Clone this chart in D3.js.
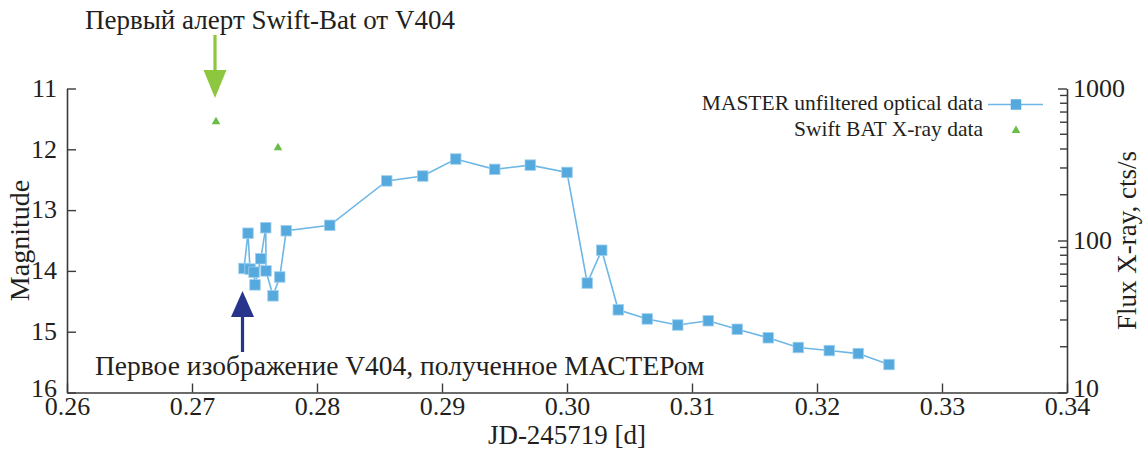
<!DOCTYPE html>
<html>
<head>
<meta charset="utf-8">
<script src="https://cdn.jsdelivr.net/npm/d3@7"></script>
<style>
  html, body { margin: 0; padding: 0; background: #fff; }
</style>
</head>
<body>
<svg id="chart" width="1147" height="450"></svg>
<script>
// MASTER unfiltered optical light curve (JD-245719, magnitude)
const masterJD = [0.27416, 0.27448, 0.27464, 0.27496, 0.27504, 0.27550, 0.27590, 0.27592,
  0.27648, 0.27702, 0.27754, 0.28102, 0.28558, 0.28846, 0.29110, 0.29422, 0.29706, 0.30000,
  0.30162, 0.30278, 0.30410, 0.30642, 0.30886, 0.31130, 0.31362, 0.31610, 0.31850, 0.32098,
  0.32330, 0.32576];
const masterMag = [13.96, 13.38, 13.97, 14.02, 14.23, 13.80, 13.29, 14.00,
  14.41, 14.10, 13.34, 13.25, 12.52, 12.44, 12.16, 12.33, 12.26, 12.38,
  14.20, 13.66, 14.64, 14.79, 14.89, 14.82, 14.96, 15.10, 15.26, 15.31,
  15.36, 15.54];

// Swift BAT X-ray points (JD-245719, cts/s)
const batJD = [0.27192, 0.27688];
const batFlux = [605, 408];

// Axis ticks
const xTicks = [0.26, 0.27, 0.28, 0.29, 0.30, 0.31, 0.32, 0.33, 0.34];
const magTicks = [11, 12, 13, 14, 15, 16];
const fluxTicks = [10, 100, 1000];

const FONT = '"Liberation Serif", "Times New Roman", "DejaVu Serif", serif';
const svg = d3.select("#chart");
const plotL = 67, plotR = 1067, plotT = 88.5, plotB = 392.5;

const x = d3.scaleLinear().domain([0.26, 0.34]).range([plotL, plotR]);
const yMag = d3.scaleLinear().domain([11, 16]).range([plotT, plotB]);
const yFlux = d3.scaleLog().domain([10, 1000]).range([plotB, plotT]);

const axisColor = "#3a3a3a";

// Bottom axis: inward ticks
const gx = svg.append("g").attr("transform", `translate(0,${plotB})`)
  .call(d3.axisBottom(x).tickValues(xTicks).tickSizeInner(-9).tickSizeOuter(0)
    .tickFormat(d3.format(".2f")));
// Left axis
const gl = svg.append("g").attr("transform", `translate(${plotL},0)`)
  .call(d3.axisLeft(yMag).tickValues(magTicks).tickSizeInner(-9).tickSizeOuter(0)
    .tickFormat(d3.format("d")));
// Right axis, log with minor ticks
const minor = [];
[10, 100].forEach(p => { for (let k = 2; k <= 9; k++) minor.push(p * k); });
const gr = svg.append("g").attr("transform", `translate(${plotR},0)`)
  .call(d3.axisRight(yFlux).tickValues(fluxTicks).tickSizeInner(-9).tickSizeOuter(0)
    .tickFormat(d3.format("d")));
gr.selectAll(".minor").data(minor).enter().append("line")
  .attr("class", "minor")
  .attr("x1", 0).attr("x2", -7)
  .attr("y1", d => yFlux(d)).attr("y2", d => yFlux(d));

[gx, gl, gr].forEach(g => {
  g.attr("font-family", null).attr("font-size", null);
  g.select(".domain").attr("stroke", axisColor).attr("stroke-width", 1.6);
  g.selectAll("line").attr("stroke", axisColor).attr("stroke-width", 1.4);
  g.selectAll("text").style("font-size", "26px").attr("fill", "#231f20");
});
gx.selectAll(".tick text").attr("y", 4).attr("dy", "0.71em");
// the lowest labels on the side axes sit a little above the corner
gl.selectAll(".tick text").attr("x", -10).attr("dy", "0.30em")
  .attr("y", d => d === 16 ? -4 : 0);
gr.selectAll(".tick text").attr("x", 6).attr("dy", "0.30em")
  .attr("y", d => d === 10 ? -4 : 0);

// Axis titles
svg.append("text").attr("x", 567).attr("y", 444).attr("text-anchor", "middle")
  .style("font-size", "27px").text("JD-245719 [d]");
svg.append("text").attr("transform", `translate(29,${(plotT + plotB) / 2}) rotate(-90)`)
  .attr("text-anchor", "middle").style("font-size", "28px").text("Magnitude");
svg.append("text").attr("transform", `translate(1136,${(plotT + plotB) / 2}) rotate(-90)`)
  .attr("text-anchor", "middle").style("font-size", "27px").text("Flux X-ray, cts/s");

// MASTER light curve
const master = masterJD.map((d, i) => ({ t: d, m: masterMag[i] }));
const blue = "#56a9dd";
svg.append("path").datum(master)
  .attr("fill", "none").attr("stroke", "#6db7e6").attr("stroke-width", 1.6)
  .attr("d", d3.line().x(d => x(d.t)).y(d => yMag(d.m)));
const sq = 10.5;
svg.append("g").selectAll("rect").data(master).enter().append("rect")
  .attr("x", d => x(d.t) - sq / 2).attr("y", d => yMag(d.m) - sq / 2)
  .attr("width", sq).attr("height", sq)
  .attr("fill", blue).attr("stroke", "#9fd0ef").attr("stroke-width", 0.8);

// Swift BAT points
const green = "#69bd45";
const tri = d3.symbol().type(d3.symbolTriangle).size(32);
svg.append("g").selectAll("path").data(batJD.map((d, i) => ({ t: d, f: batFlux[i] })))
  .enter().append("path")
  .attr("d", tri)
  .attr("transform", d => `translate(${x(d.t)},${yFlux(d.f)})`)
  .attr("fill", green);

// Legend
const lgX = 983;
svg.append("text").attr("x", lgX).attr("y", 109.5).attr("text-anchor", "end")
  .style("font-size", "21.5px").text("MASTER unfiltered optical data");
svg.append("line").attr("x1", 988).attr("x2", 1043).attr("y1", 104.5).attr("y2", 104.5)
  .attr("stroke", "#6db7e6").attr("stroke-width", 1.6);
svg.append("rect").attr("x", 1016 - sq / 2).attr("y", 104.5 - sq / 2)
  .attr("width", sq).attr("height", sq).attr("fill", blue);
svg.append("text").attr("x", lgX).attr("y", 136).attr("text-anchor", "end")
  .style("font-size", "21.5px").text("Swift BAT X-ray data");
svg.append("path").attr("d", tri).attr("transform", "translate(1016,130.5)").attr("fill", green);

// Annotation arrows
function arrow(cx, yTail, yTip, headLen, halfW, color) {
  const dir = yTip > yTail ? 1 : -1;
  const base = yTip - dir * headLen;
  svg.append("line").attr("x1", cx).attr("x2", cx).attr("y1", yTail).attr("y2", base)
    .attr("stroke", color).attr("stroke-width", 3.2);
  svg.append("path")
    .attr("d", `M${cx - halfW},${base} L${cx + halfW},${base} L${cx},${yTip} Z`)
    .attr("fill", color);
}
arrow(x(batJD[0]) - 1, 35, 98, 28, 11.5, "#8dc63f");
arrow(x(masterJD[0]) - 1.5, 352, 291, 26, 11.5, "#27348b");

svg.append("text").attr("x", 85).attr("y", 29).style("font-size", "27px")
  .text("Первый алерт Swift-Bat от V404");
svg.append("text").attr("x", 95).attr("y", 375).style("font-size", "27.5px")
  .text("Первое изображение V404, полученное МАСТЕРом");

// Serif face and ink colour on every label
svg.selectAll("text").style("font-family", FONT).style("fill", "#231f20");
</script>
</body>
</html>
